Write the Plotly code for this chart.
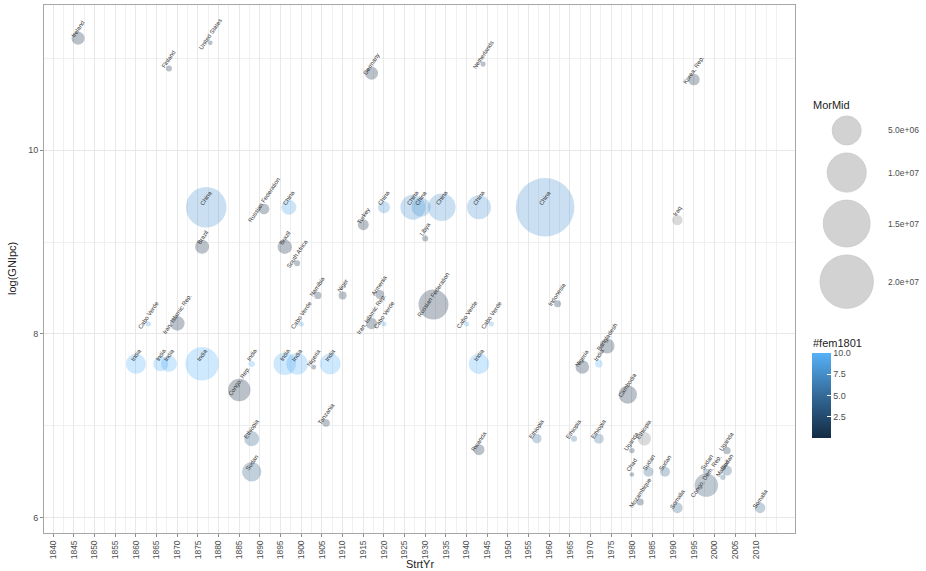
import numpy as np
import plotly.graph_objects as go

# ---- data: famine episodes ----
country = [
    "Ireland", "Finland", "United States", "Germany", "Netherlands", "Korea, Rep.",
    "China", "Russian Federation", "China", "Brazil", "Brazil", "South Africa",
    "Turkey", "China", "China", "China", "China", "Libya", "China", "China", "Iraq",
    "Cabo Verde", "Iran, Islamic Rep.", "Cabo Verde", "Namibia", "Niger", "Armenia",
    "Iran, Islamic Rep.", "Cabo Verde", "Russian Federation", "Cabo Verde", "Cabo Verde",
    "Indonesia", "India", "India", "India", "India", "India", "India", "India",
    "Nigeria", "India", "India", "Congo, Rep.", "Ethiopia", "Sudan", "Tanzania",
    "Ethiopia", "Rwanda", "Ethiopia", "Ethiopia", "Nigeria", "India", "Bangladesh",
    "Cambodia", "Uganda", "Ethiopia", "Chad", "Sudan", "Sudan", "Mozambique",
    "Somalia", "Congo, Dem. Rep.", "Sudan", "Malawi", "Uganda", "Sudan", "Somalia",
]
strt_yr = [
    1846, 1868, 1878, 1917, 1944, 1995,
    1877, 1891, 1897, 1876, 1896, 1899,
    1915, 1920, 1927, 1929, 1934, 1930, 1943, 1959, 1991,
    1863, 1870, 1900, 1904, 1910, 1919,
    1917, 1920, 1932, 1940, 1946,
    1962, 1860, 1866, 1868, 1876, 1888, 1896, 1899,
    1903, 1907, 1943, 1885, 1888, 1888, 1906,
    1957, 1943, 1966, 1972, 1968, 1972, 1974,
    1979, 1980, 1983, 1980, 1984, 1988, 1982,
    1991, 1998, 1998, 2002, 2003, 2003, 2011,
]
log_gni = [
    11.22, 10.89, 11.17, 10.84, 10.94, 10.77,
    9.38, 9.36, 9.38, 8.95, 8.95, 8.77,
    9.19, 9.38, 9.38, 9.38, 9.38, 9.04, 9.38, 9.38, 9.24,
    8.11, 8.115, 8.11, 8.42, 8.42, 8.43,
    8.115, 8.11, 8.32, 8.11, 8.11,
    8.33, 7.675, 7.675, 7.675, 7.675, 7.675, 7.675, 7.675,
    7.64, 7.675, 7.675, 7.39, 6.86, 6.50, 7.03,
    6.86, 6.74, 6.86, 6.86, 7.64, 7.675, 7.87,
    7.34, 6.73, 6.86, 6.47, 6.50, 6.50, 6.17,
    6.107, 6.354, 6.50, 6.44, 6.73, 6.51, 6.107,
]
mor_mid = [
    600000, 16000, 0, 590000, 2000, 410000,
    10900000, 300000, 900000, 740000, 800000, 16000,
    345000, 460000, 3500000, 1740000, 4440000, 16000, 3160000, 24500000, 280000,
    1300, 840000, 1300, 60000, 97000, 160000,
    390000, 1300, 5400000, 1300, 1300,
    48000, 2000000, 900000, 1090000, 7000000, 27000, 2700000, 2430000,
    1300, 2260000, 2150000, 2660000, 900000, 1840000, 75000,
    190000, 344000, 16000, 245000, 680000, 75000, 900000,
    1600000, 5000, 650000, 0, 245000, 245000, 48000,
    300000, 2970000, 30000, 5000, 66000, 245000, 300000,
]
fem1801 = [
    0, 0, 0, 0, 0, 0,
    8, 0, 9, 0, 0, 0,
    0, 8, 8, 8, 8, 0, 8, 8, None,
    9, 0, 9, 0, 0, 0,
    0, 9, 0, 9, 9,
    0, 10, 10, 10, 10, 10, 10, 10,
    0, 10, 10, 0, 4, 4, 0,
    5, 0, 5, 5, 0, 10, 0,
    0, 0, None, 0, 4, 4, 0,
    4, 2, 4, 4, 0, 4, 4,
]

x_breaks = list(range(1840, 2015, 5))
y_breaks = [6, 8, 10]
y_minor = [7, 9, 11]
size_breaks = [5e6, 1e7, 1.5e7, 2e7]
size_labels = ["5.0e+06", "1.0e+07", "1.5e+07", "2.0e+07"]
fem_breaks = [2.5, 5.0, 7.5, 10.0]
fem_labels = ["2.5", "5.0", "7.5", "10.0"]

# ---- page geometry (pixels) ----
W, H = 926, 571
P_LEFT, P_RIGHT, P_TOP, P_BOTTOM = 44, 795, 5, 533
LEG_LEFT = 801
X_RANGE = [1837.75, 2019.46]
Y_RANGE = [5.833, 11.582]
LABEL_NUDGE = 0.1
FONT = "Liberation Sans, Arial, sans-serif"

# size scale: radius grows with the square root of mortality
R_MIN, R_SLOPE = 2.3, 0.005456


def diameter(v):
    return 2 * (R_MIN + R_SLOPE * np.sqrt(np.asarray(v, dtype=float)))


fem_scale = [[0.0, "#132B43"], [0.5, "#336A98"], [1.0, "#56B1F7"]]
ALPHA = 0.29

has_fem = [f is not None for f in fem1801]
idx_fem = [i for i, ok in enumerate(has_fem) if ok]
idx_na = [i for i, ok in enumerate(has_fem) if not ok]

fig = go.Figure()

fig.add_trace(go.Scatter(
    x=[strt_yr[i] for i in idx_fem],
    y=[log_gni[i] for i in idx_fem],
    mode="markers",
    marker=dict(
        size=diameter([mor_mid[i] for i in idx_fem]),
        color=[fem1801[i] for i in idx_fem],
        colorscale=fem_scale, cmin=0, cmax=10,
        opacity=ALPHA,
        line=dict(width=0),
        showscale=True,
        colorbar=dict(
            x=811.7 / W, xanchor="left", xpad=0,
            y=1 - 395.5 / H, yanchor="middle", ypad=0,
            len=85, lenmode="pixels", thickness=19, thicknessmode="pixels",
            outlinewidth=0,
            tickmode="array", tickvals=fem_breaks, ticktext=fem_labels,
            ticks="inside", ticklen=4, tickcolor="white", tickwidth=1,
            tickfont=dict(family=FONT, size=9, color="#4d4d4d"),
        ),
    ),
    hoverinfo="skip", showlegend=False,
))

fig.add_trace(go.Scatter(
    x=[strt_yr[i] for i in idx_na],
    y=[log_gni[i] for i in idx_na],
    mode="markers",
    marker=dict(size=diameter([mor_mid[i] for i in idx_na]),
                color="#7f7f7f", opacity=ALPHA, line=dict(width=0)),
    hoverinfo="skip", showlegend=False,
))

# country labels, angled and nudged above each bubble
annotations = []
for c, xv, yv in zip(country, strt_yr, log_gni):
    annotations.append(dict(
        x=xv, y=yv + LABEL_NUDGE, xref="x", yref="y",
        text=c, showarrow=False, textangle=-56,
        xanchor="center", yanchor="middle",
        font=dict(family=FONT, size=6, color="#333333"),
    ))

# size legend drawn on a pixel-unit axis beside the panel
d_keys = diameter(size_breaks)
gap = 8
tops = [116.0]
for d in d_keys[:-1]:
    tops.append(tops[-1] + d + gap)
key_y = [t + d / 2 for t, d in zip(tops, d_keys)]
key_x = [846.7] * len(size_breaks)

fig.add_trace(go.Scatter(
    x=key_x, y=key_y, xaxis="x2", yaxis="y2",
    mode="markers",
    marker=dict(size=d_keys, color="#bfbfbf", line=dict(width=0.8, color="#b3b3b3")),
    hoverinfo="skip", showlegend=False, cliponaxis=False,
))

for lab, yk in zip(size_labels, key_y):
    annotations.append(dict(
        x=886 / W, y=1 - yk / H, xref="paper", yref="paper",
        text=lab, showarrow=False, xanchor="left", yanchor="middle",
        font=dict(family=FONT, size=8.5, color="#4d4d4d"),
    ))

annotations += [
    dict(x=811 / W, y=1 - 105 / H, xref="paper", yref="paper", text="MorMid",
         showarrow=False, xanchor="left", yanchor="middle",
         font=dict(family=FONT, size=11, color="#222222")),
    dict(x=811 / W, y=1 - 343 / H, xref="paper", yref="paper", text="#fem1801",
         showarrow=False, xanchor="left", yanchor="middle",
         font=dict(family=FONT, size=11, color="#222222")),
    dict(x=(P_LEFT + P_RIGHT) / 2 / W, y=1 - 564 / H, xref="paper", yref="paper",
         text="StrtYr", showarrow=False, xanchor="center", yanchor="middle",
         font=dict(family=FONT, size=11, color="#222222")),
    dict(x=12 / W, y=1 - 269 / H, xref="paper", yref="paper",
         text="log(GNIpc)", showarrow=False, textangle=-90,
         xanchor="center", yanchor="middle",
         font=dict(family=FONT, size=11, color="#222222")),
]

axis_common = dict(
    showline=True, mirror=True, linecolor="#a6a6a6", linewidth=1,
    ticks="outside", ticklen=3, tickcolor="#8c8c8c", tickwidth=1,
    showgrid=True, gridcolor="#e8e8e8", gridwidth=1, zeroline=False,
)

fig.update_layout(
    width=W, height=H,
    margin=dict(l=0, r=0, t=0, b=0, pad=0),
    paper_bgcolor="white", plot_bgcolor="rgba(0,0,0,0)",
    xaxis=dict(
        domain=[P_LEFT / W, P_RIGHT / W], range=X_RANGE,
        tickmode="array", tickvals=x_breaks, ticktext=[str(v) for v in x_breaks],
        tickangle=-90,
        tickfont=dict(family=FONT, size=8.5, color="#4d4d4d"),
        minor=dict(tickmode="array", tickvals=list(np.arange(1840, 2015.1, 2.5)),
                   showgrid=True, gridcolor="#f0f0f0", gridwidth=1, ticklen=0),
        **axis_common,
    ),
    yaxis=dict(
        domain=[1 - P_BOTTOM / H, 1 - P_TOP / H], range=Y_RANGE,
        tickmode="array", tickvals=y_breaks, ticktext=[str(v) for v in y_breaks],
        tickfont=dict(family=FONT, size=9, color="#4d4d4d"),
        minor=dict(tickmode="array", tickvals=y_minor,
                   showgrid=True, gridcolor="#f0f0f0", gridwidth=1, ticklen=0),
        **axis_common,
    ),
    xaxis2=dict(domain=[LEG_LEFT / W, 1], range=[LEG_LEFT, W], visible=False,
                anchor="y2", fixedrange=True),
    yaxis2=dict(domain=[0, 1], range=[H, 0], visible=False, anchor="x2", fixedrange=True),
    annotations=annotations,
    font=dict(family=FONT),
)

fig.write_html("out.html")
